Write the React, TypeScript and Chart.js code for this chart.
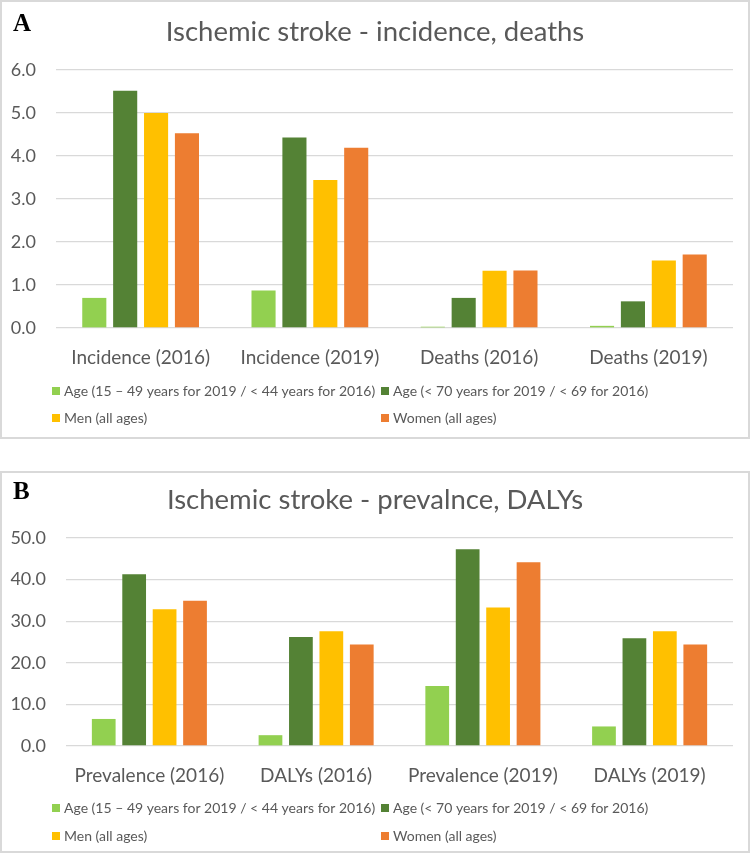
import React, { useEffect, useRef } from "react";
import { Chart, registerables } from "chart.js";

Chart.register(...registerables);

// ---------- data ----------
const SERIES_LABELS = [
  "Age (15 – 49 years for 2019 / < 44 years for 2016)",
  "Age (< 70 years for 2019 / < 69 for 2016)",
  "Men (all ages)",
  "Women (all ages)",
];
const SERIES_COLORS = ["#92D050", "#548235", "#FFC000", "#ED7D31"];

const A_TITLE = "Ischemic stroke - incidence, deaths";
const A_CATEGORIES = ["Incidence (2016)", "Incidence (2019)", "Deaths (2016)", "Deaths (2019)"];
const A_YOUNG = [0.7, 0.87, 0.03, 0.05];
const A_UNDER70 = [5.52, 4.43, 0.7, 0.62];
const A_MEN = [5.0, 3.44, 1.33, 1.57];
const A_WOMEN = [4.53, 4.19, 1.34, 1.71];
const A_Y_MAX = 6;
const A_Y_STEP = 1;

const B_TITLE = "Ischemic stroke - prevalnce, DALYs";
const B_CATEGORIES = ["Prevalence (2016)", "DALYs (2016)", "Prevalence (2019)", "DALYs (2019)"];
const B_YOUNG = [6.5, 2.6, 14.4, 4.7];
const B_UNDER70 = [41.3, 26.2, 47.3, 25.9];
const B_MEN = [32.9, 27.6, 33.3, 27.6];
const B_WOMEN = [34.9, 24.4, 44.2, 24.4];
const B_Y_MAX = 50;
const B_Y_STEP = 10;

// ---------- styling ----------
const FONT = "Lato, 'Open Sans', sans-serif";
const TEXT_COLOR = "#595959";
const GRID_COLOR = "#D9D9D9";

const decorPlugin = {
  id: "decor",
  beforeDraw(chart: any) {
    const { ctx, width, height } = chart;
    ctx.save();
    ctx.fillStyle = "#ffffff";
    ctx.fillRect(0, 0, width, height);
    ctx.strokeStyle = GRID_COLOR;
    ctx.lineWidth = 2;
    ctx.strokeRect(1, 1, width - 2, height - 2);
    ctx.restore();
  },
  afterDraw(chart: any, _args: any, opts: any) {
    const { ctx, width } = chart;
    ctx.save();
    // panel letter
    ctx.fillStyle = "#000000";
    ctx.font = "bold 25px 'Liberation Serif', 'Times New Roman', serif";
    ctx.textAlign = "left";
    ctx.textBaseline = "middle";
    ctx.fillText(opts.letter, 13, opts.letterY);
    // title
    ctx.fillStyle = TEXT_COLOR;
    ctx.font = `27.5px ${FONT}`;
    ctx.textAlign = "center";
    ctx.fillText(opts.title, width / 2, opts.titleY);
    // legend (2 columns grid)
    ctx.font = `14px ${FONT}`;
    ctx.textAlign = "left";
    const datasets = chart.data.datasets;
    datasets.forEach((ds: any, i: number) => {
      const col = i % 2;
      const row = Math.floor(i / 2);
      const x = opts.legendCols[col];
      const y = opts.legendRows[row];
      ctx.fillStyle = ds.backgroundColor;
      ctx.fillRect(x, y - 4, 8, 8);
      ctx.fillStyle = TEXT_COLOR;
      ctx.fillText(ds.label, x + 12, y + 0.5);
    });
    ctx.restore();
  },
};

type PanelProps = {
  letter: string;
  title: string;
  categories: string[];
  series: number[][];
  yMax: number;
  yStep: number;
  top: number;
  height: number;
  plotLeft: number;
  plotTop: number;
  plotBottom: number;
  titleY: number;
  letterY: number;
  legendRows: number[];
};

const WIDTH = 750;
const PLOT_RIGHT = 733;
const X_AXIS_H = 50;

function Panel(p: PanelProps) {
  const ref = useRef<HTMLCanvasElement | null>(null);
  useEffect(() => {
    if (!ref.current) return;
    const chart = new Chart(ref.current, {
      type: "bar",
      data: {
        labels: p.categories,
        datasets: p.series.map((vals, i) => ({
          label: SERIES_LABELS[i],
          data: vals,
          backgroundColor: SERIES_COLORS[i],
          borderWidth: 0,
          barPercentage: 0.78,
          categoryPercentage: 0.73,
        })),
      },
      options: {
        responsive: false,
        animation: false,
        devicePixelRatio: 1,
        events: [],
        layout: {
          padding: {
            top: p.plotTop,
            left: 0,
            right: WIDTH - PLOT_RIGHT,
            bottom: p.height - p.plotBottom - X_AXIS_H,
          },
        },
        plugins: {
          legend: { display: false },
          title: { display: false },
          tooltip: { enabled: false },
          decor: {
            letter: p.letter,
            title: p.title,
            titleY: p.titleY,
            letterY: p.letterY,
            legendRows: p.legendRows,
            legendCols: [52, 381],
          },
        } as any,
        scales: {
          x: {
            grid: { display: false },
            border: { display: false },
            ticks: { color: TEXT_COLOR, font: { family: FONT, size: 19 }, padding: 10, maxRotation: 0, autoSkip: false },
            afterFit: (s: any) => {
              s.height = X_AXIS_H;
            },
          },
          y: {
            min: 0,
            max: p.yMax,
            ticks: {
              stepSize: p.yStep,
              color: TEXT_COLOR,
              font: { family: FONT, size: 18 },
              padding: 20,
              callback: (v: any) => Number(v).toFixed(1),
            },
            grid: { color: GRID_COLOR, lineWidth: 1.3, drawTicks: false },
            border: { display: false },
            afterFit: (s: any) => {
              s.width = p.plotLeft;
            },
          },
        },
      },
      plugins: [decorPlugin],
    });
    return () => chart.destroy();
  }, []);
  return (
    <canvas
      ref={ref}
      width={WIDTH}
      height={p.height}
      style={{ position: "absolute", left: 0, top: p.top, width: WIDTH, height: p.height, display: "block" }}
    />
  );
}

export default function App() {
  useEffect(() => {
    document.body.style.margin = "0";
  }, []);
  return (
    <div style={{ position: "absolute", left: 0, top: 0, width: 750, height: 857, background: "#ffffff" }}>
      <Panel
        letter="A"
        title={A_TITLE}
        categories={A_CATEGORIES}
        series={[A_YOUNG, A_UNDER70, A_MEN, A_WOMEN]}
        yMax={A_Y_MAX}
        yStep={A_Y_STEP}
        top={0}
        height={439}
        plotLeft={56}
        plotTop={70}
        plotBottom={328}
        titleY={32}
        letterY={25}
        legendRows={[391, 418]}
      />
      <Panel
        letter="B"
        title={B_TITLE}
        categories={B_CATEGORIES}
        series={[B_YOUNG, B_UNDER70, B_MEN, B_WOMEN]}
        yMax={B_Y_MAX}
        yStep={B_Y_STEP}
        top={471}
        height={382}
        plotLeft={66}
        plotTop={67}
        plotBottom={275}
        titleY={29}
        letterY={22}
        legendRows={[337, 365]}
      />
    </div>
  );
}
